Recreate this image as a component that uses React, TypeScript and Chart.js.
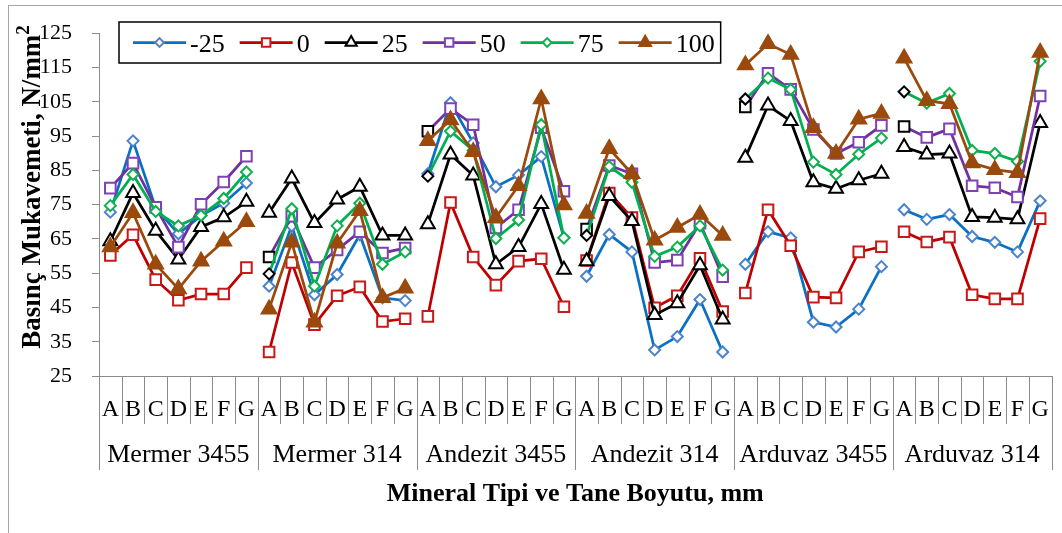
import { useEffect, useRef } from "react";
import { Chart, registerables } from "chart.js";
import { drawPoint } from "chart.js/helpers";

Chart.register(...registerables);

// Mineral groups and grain-size classes on the category axis
const groups = ["Mermer 3455", "Mermer 314", "Andezit 3455", "Andezit 314", "Arduvaz 3455", "Arduvaz 314"];
const sizes = ["A", "B", "C", "D", "E", "F", "G"];

// Value axis
const yMin = 25;
const yMax = 125;
const yStep = 10;

// Series (temperature, °C)
const seriesNames = ["-25", "0", "25", "50", "75", "100"];

const valsMinus25 = [
  72.8, 93.6, 74.0, 66.5, 71.8, 75.4, 81.3,
  51.2, 68.8, 48.7, 54.6, 66.2, 47.8, 47.0,
  84.0, 104.7, 93.0, 80.2, 83.6, 89.0, 65.3,
  54.1, 66.3, 61.2, 32.6, 36.5, 47.3, 32.0,
  57.6, 67.1, 65.3, 40.7, 39.3, 44.5, 56.9,
  73.5, 70.7, 72.1, 65.7, 64.0, 61.2, 76.1,
];
const vals0 = [
  60.2, 66.2, 53.1, 47.1, 48.9, 48.9, 56.6,
  32.0, 58.1, 40.0, 48.4, 51.0, 40.9, 41.7,
  42.4, 75.6, 59.7, 51.5, 58.5, 59.2, 45.2,
  58.7, 78.4, 71.2, 44.9, 48.4, 59.3, 43.8,
  49.2, 73.5, 63.0, 48.0, 47.8, 61.2, 62.7,
  67.1, 64.1, 65.5, 48.7, 47.5, 47.5, 70.9,
];
const vals25 = [
  64.3, 78.4, 67.4, 59.0, 68.5, 71.3, 75.8,
  72.6, 82.6, 69.6, 76.5, 80.2, 66.0, 66.0,
  69.3, 89.6, 83.5, 57.6, 62.6, 75.2, 56.0,
  58.5, 77.5, 70.2, 42.8, 46.2, 57.3, 41.5,
  88.7, 103.9, 99.4, 81.5, 79.6, 82.1, 84.0,
  91.8, 89.6, 89.9, 71.4, 71.2, 70.7, 98.8,
];
const vals50 = [
  79.8, 87.1, 74.2, 62.6, 75.1, 81.6, 89.1,
  59.7, 71.6, 56.6, 61.8, 67.1, 60.9, 62.3,
  96.4, 103.0, 98.3, 68.2, 73.5, 97.4, 78.9,
  67.9, 86.4, 84.0, 58.1, 58.8, 69.6, 54.0,
  103.5, 113.3, 108.6, 96.9, 89.9, 93.2, 98.1,
  97.8, 94.6, 97.1, 80.5, 79.9, 77.2, 106.7,
];
const vals75 = [
  74.7, 83.8, 73.0, 68.8, 71.8, 76.8, 84.5,
  54.8, 73.8, 51.2, 68.8, 75.4, 57.6, 61.2,
  83.3, 96.4, 90.8, 65.1, 70.5, 98.3, 65.3,
  66.0, 86.1, 81.5, 59.9, 62.6, 68.8, 55.9,
  105.8, 111.9, 108.6, 87.4, 83.8, 89.7, 94.4,
  107.9, 104.6, 107.4, 90.8, 89.9, 87.6, 116.8,
];
const vals100 = [
  62.6, 72.6, 57.6, 50.4, 58.5, 64.3, 70.0,
  44.5, 64.0, 40.7, 63.7, 73.2, 47.8, 50.6,
  93.6, 99.7, 90.4, 71.2, 80.5, 105.8, 74.9,
  72.4, 91.3, 84.0, 64.6, 68.3, 72.1, 66.0,
  115.7, 121.9, 118.8, 97.4, 89.9, 99.9, 101.6,
  117.7, 105.3, 104.4, 87.1, 85.2, 84.3, 119.4,
];

const seriesValues = [valsMinus25, vals0, vals25, vals50, vals75, vals100];

const categories = groups.flatMap((g) => sizes.map((s) => `${g} ${s}`));

const yTitle = "Basınç Mukavemeti, N/mm";
const yTitleSup = "2";
const xTitle = "Mineral Tipi ve Tane Boyutu, mm";

// Visual styling per series
type SeriesStyle = {
  line: string;
  marker: string;
  fill: string;
  pointStyle: "rectRot" | "rect" | "triangle";
  radius: number;
  firstBlack: boolean;
};
const styles: SeriesStyle[] = [
  { line: "#0A70C2", marker: "#4C84CC", fill: "#ffffff", pointStyle: "rectRot", radius: 5.5, firstBlack: false },
  { line: "#C00000", marker: "#C81818", fill: "#ffffff", pointStyle: "rect", radius: 7.5, firstBlack: false },
  { line: "#000000", marker: "#000000", fill: "#ffffff", pointStyle: "triangle", radius: 8, firstBlack: false },
  { line: "#7030A0", marker: "#7F40B8", fill: "#ffffff", pointStyle: "rect", radius: 7.5, firstBlack: true },
  { line: "#00B050", marker: "#10B050", fill: "#ffffff", pointStyle: "rectRot", radius: 5.5, firstBlack: true },
  { line: "#9A4A0C", marker: "#9A4A0C", fill: "#9A4A0C", pointStyle: "triangle", radius: 8.5, firstBlack: false },
];

const LINE_W = 2.75;
const MARK_W = 2;
const AXIS = "#8C8C8C";
const SERIF = "'Liberation Serif', 'Times New Roman', serif";
const PER_GROUP = sizes.length;

const decorPlugin = {
  id: "decor",
  afterDraw(chart: any) {
    const { ctx, chartArea: a, scales } = chart;
    const xs = scales.x;
    const n = categories.length;
    const w = (a.right - a.left) / n;
    ctx.save();

    // category separators below the axis
    ctx.strokeStyle = AXIS;
    ctx.lineWidth = 1;
    for (let k = 0; k <= n; k++) {
      const px = Math.round(a.left + k * w) + 0.5;
      const len = k % PER_GROUP === 0 ? 94 : 48;
      ctx.beginPath();
      ctx.moveTo(px, a.bottom);
      ctx.lineTo(px, a.bottom + len);
      ctx.stroke();
    }

    // size letters
    ctx.fillStyle = "#000";
    ctx.textAlign = "center";
    ctx.textBaseline = "alphabetic";
    ctx.font = `24px ${SERIF}`;
    categories.forEach((_, i) => {
      ctx.fillText(sizes[i % PER_GROUP], xs.getPixelForValue(i), a.bottom + 40);
    });

    // group names
    ctx.font = `26px ${SERIF}`;
    groups.forEach((g, j) => {
      const cx = (xs.getPixelForValue(j * PER_GROUP) + xs.getPixelForValue(j * PER_GROUP + PER_GROUP - 1)) / 2;
      ctx.fillText(g, cx, a.bottom + 86);
    });

    // x title
    ctx.font = `bold 26px ${SERIF}`;
    ctx.fillText(xTitle, (a.left + a.right) / 2, a.bottom + 125);

    // y title (rotated, with superscript)
    ctx.save();
    ctx.translate(40, 187);
    ctx.rotate(-Math.PI / 2);
    ctx.font = `bold 27px ${SERIF}`;
    const mainW = ctx.measureText(yTitle).width;
    ctx.font = `bold 19px ${SERIF}`;
    const supW = ctx.measureText(yTitleSup).width;
    const start = -(mainW + supW) / 2;
    ctx.textAlign = "left";
    ctx.font = `bold 27px ${SERIF}`;
    ctx.fillText(yTitle, start, 0);
    ctx.font = `bold 19px ${SERIF}`;
    ctx.fillText(yTitleSup, start + mainW, -11);
    ctx.restore();

    // legend
    const ly = 42.5;
    const lineLen = 53;
    let lx = 133;
    ctx.font = `26px ${SERIF}`;
    ctx.textAlign = "left";
    const items: { x: number; tw: number }[] = [];
    seriesNames.forEach((name) => {
      const tw = ctx.measureText(name).width;
      items.push({ x: lx, tw });
      lx += lineLen + 4 + tw + 15;
    });
    const last = items[items.length - 1];
    const boxRight = last.x + lineLen + 4 + last.tw + 6;
    ctx.fillStyle = "#fff";
    ctx.fillRect(119, 22, boxRight - 119, 41);
    ctx.strokeStyle = "#000";
    ctx.lineWidth = 1.5;
    ctx.strokeRect(119, 22, boxRight - 119, 41);

    seriesNames.forEach((name, i) => {
      const st = styles[i];
      const it = items[i];
      ctx.strokeStyle = st.line;
      ctx.lineWidth = LINE_W;
      ctx.beginPath();
      ctx.moveTo(it.x, ly);
      ctx.lineTo(it.x + lineLen, ly);
      ctx.stroke();
      ctx.fillStyle = st.fill;
      ctx.strokeStyle = st.marker;
      ctx.lineWidth = MARK_W;
      drawPoint(ctx, { pointStyle: st.pointStyle, radius: st.radius * 0.8, rotation: 0, borderWidth: MARK_W }, it.x + lineLen / 2, ly);
      ctx.fillStyle = "#000";
      ctx.fillText(name, it.x + lineLen + 4, ly + 9);
    });

    ctx.restore();
  },
};

export default function App() {
  const canvasRef = useRef<HTMLCanvasElement | null>(null);

  useEffect(() => {
    const canvas = canvasRef.current;
    if (!canvas) return;

    const datasets = seriesNames.map((name, i) => {
      const st = styles[i];
      return {
        label: name,
        data: seriesValues[i],
        borderColor: st.line,
        borderWidth: LINE_W,
        backgroundColor: st.fill,
        pointStyle: st.pointStyle,
        pointRadius: st.radius,
        pointHoverRadius: st.radius,
        pointBorderWidth: MARK_W,
        pointBackgroundColor: st.fill,
        pointBorderColor: (c: any) =>
          st.firstBlack && c.dataIndex > 0 && c.dataIndex % PER_GROUP === 0 ? "#000000" : st.marker,
        tension: 0,
        fill: false,
        order: seriesNames.length - i,
        segment: {
          borderColor: (c: any) => (c.p0DataIndex % PER_GROUP === PER_GROUP - 1 ? "rgba(0,0,0,0)" : st.line),
        },
      };
    });

    const chart = new Chart(canvas, {
      type: "line",
      data: { labels: categories, datasets },
      options: {
        responsive: false,
        animation: false,
        layout: { padding: { top: 20, right: 9, bottom: 0, left: 0 } },
        plugins: {
          legend: { display: false },
          tooltip: { enabled: false },
          title: { display: false },
        },
        scales: {
          x: {
            type: "category",
            offset: true,
            grid: { display: false },
            border: { display: true, color: AXIS, width: 1 },
            ticks: { display: false },
            afterFit: (s: any) => {
              s.height = 157;
            },
          },
          y: {
            min: yMin,
            max: yMax,
            grid: { display: true, drawOnChartArea: false, drawTicks: true, tickLength: 7, color: AXIS },
            border: { display: true, color: AXIS, width: 1 },
            ticks: {
              stepSize: yStep,
              padding: 20,
              color: "#000",
              font: { family: SERIF, size: 22 },
            },
            afterFit: (s: any) => {
              s.width = 99;
            },
          },
        },
      },
      plugins: [decorPlugin],
    });

    return () => chart.destroy();
  }, []);

  return (
    <div
      style={{
        position: "fixed",
        left: 0,
        top: 0,
        width: 1062,
        height: 533,
        overflow: "hidden",
        background: "#fff",
      }}
    >
      <div
        style={{
          position: "absolute",
          left: 8,
          top: 5,
          width: 1200,
          height: 700,
          border: "1px solid #A6A6A6",
        }}
      />
      <canvas ref={canvasRef} width={1062} height={533} style={{ position: "absolute", left: 0, top: 0, display: "block" }} />
    </div>
  );
}
